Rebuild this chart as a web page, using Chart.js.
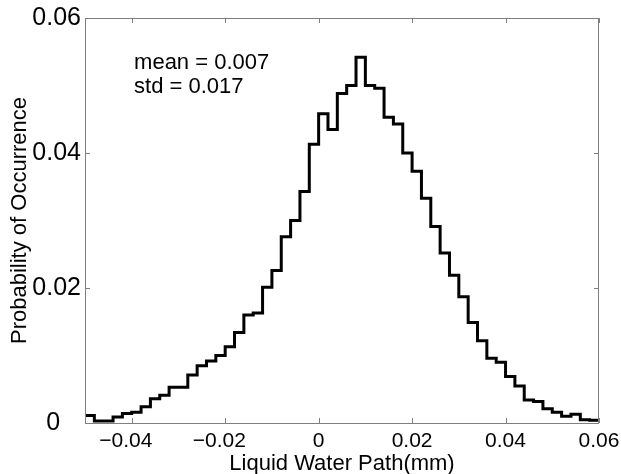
<!DOCTYPE html>
<html>
<head>
<meta charset="utf-8">
<script src="https://cdn.jsdelivr.net/npm/chart.js@4.4.1/dist/chart.umd.min.js"></script>
<style>
  html, body { margin: 0; padding: 0; background: #fff; }
</style>
</head>
<body>
<canvas id="lwpChart" width="621" height="474"></canvas>
<script>
// bin edges of the histogram (mm), one more than the values
var binEdges = [-0.050, -0.048, -0.046, -0.044, -0.042, -0.040, -0.038, -0.036, -0.034, -0.032,
                -0.030, -0.028, -0.026, -0.024, -0.022, -0.020, -0.018, -0.016, -0.014, -0.012,
                -0.010, -0.008, -0.006, -0.004, -0.002, 0.000, 0.002, 0.004, 0.006, 0.008,
                0.010, 0.012, 0.014, 0.016, 0.018, 0.020, 0.022, 0.024, 0.026, 0.028,
                0.030, 0.032, 0.034, 0.036, 0.038, 0.040, 0.042, 0.044, 0.046, 0.048,
                0.050, 0.052, 0.054, 0.056, 0.058, 0.060];
// probability of occurrence in each bin
var probability = [0.0011, 0.0003, 0.0003, 0.0009, 0.0014, 0.0016, 0.0024, 0.0036, 0.0041, 0.0053,
                   0.0053, 0.0071, 0.0085, 0.0092, 0.0100, 0.0113, 0.0134, 0.0160, 0.0163, 0.0201,
                   0.0226, 0.0276, 0.0300, 0.0343, 0.0413, 0.0458, 0.0435, 0.0488, 0.0500, 0.0542,
                   0.0500, 0.0496, 0.0453, 0.0443, 0.0400, 0.0373, 0.0333, 0.0291, 0.0252, 0.0219,
                   0.0187, 0.0149, 0.0122, 0.0096, 0.0090, 0.0069, 0.0055, 0.0034, 0.0032, 0.0021,
                   0.0016, 0.0010, 0.0013, 0.0005, 0.0004];
var xTicks = [-0.04, -0.02, 0, 0.02, 0.04, 0.06];
var yTicks = [0, 0.02, 0.04, 0.06];
var statLines = ["mean = 0.007", "std = 0.017"];

var fontName = "'Liberation Sans', Arial, Helvetica, sans-serif";

var steps = binEdges.map(function (e, i) {
    return {x: e, y: probability[Math.min(i, probability.length - 1)]};
});

function fmt(v) {
    if (v === 0) return "0";
    return (v < 0 ? "\u2212" : "") + Math.abs(v).toFixed(2);
}

// matlab style box, inward ticks and the stats text
var frameBox = {
    id: "frameBox",
    afterDatasetsDraw: function (chart) {
        var ctx = chart.ctx, a = chart.chartArea;
        var sx = chart.scales.x, sy = chart.scales.y;
        ctx.save();
        ctx.strokeStyle = "#808080";
        ctx.lineWidth = 1;
        ctx.strokeRect(Math.round(a.left) + 0.5, Math.round(a.top) + 0.5,
                       Math.round(a.width) - 1, Math.round(a.height));
        ctx.beginPath();
        xTicks.forEach(function (v) {
            var px = Math.round(sx.getPixelForValue(v)) + 0.5;
            ctx.moveTo(px, a.bottom); ctx.lineTo(px, a.bottom - 5);
            ctx.moveTo(px, a.top); ctx.lineTo(px, a.top + 5);
        });
        yTicks.forEach(function (v) {
            var py = Math.round(sy.getPixelForValue(v)) + 0.5;
            ctx.moveTo(a.left, py); ctx.lineTo(a.left + 5, py);
            ctx.moveTo(a.right, py); ctx.lineTo(a.right - 5, py);
        });
        ctx.stroke();

        ctx.fillStyle = "#000";
        ctx.font = "22px " + fontName;
        ctx.textBaseline = "alphabetic";
        ctx.textAlign = "left";
        ctx.fillText(statLines[0], sx.getPixelForValue(-0.0395), sy.getPixelForValue(0.0524));
        ctx.fillText(statLines[1], sx.getPixelForValue(-0.0395), sy.getPixelForValue(0.0489));
        ctx.restore();
    }
};

new Chart("lwpChart", {
    type: "line",
    data: {
        datasets: [{
            data: steps,
            stepped: true,
            borderColor: "#000",
            borderWidth: 3,
            borderJoinStyle: "miter",
            pointRadius: 0,
            fill: false
        }]
    },
    options: {
        responsive: false,
        animation: false,
        layout: {padding: {top: 18, right: 22, left: 0, bottom: 0}},
        plugins: {legend: {display: false}, tooltip: {enabled: false}},
        scales: {
            x: {
                type: "linear",
                min: -0.05,
                max: 0.06,
                grid: {display: false, drawTicks: false},
                border: {display: false},
                afterBuildTicks: function (s) { s.ticks = xTicks.map(function (v) { return {value: v}; }); },
                afterFit: function (s) { s.height = 51; s.paddingLeft = 0; s.paddingRight = 0; },
                ticks: {
                    color: "#000",
                    padding: 6,
                    maxRotation: 0,
                    font: {family: fontName, size: 21},
                    callback: function (v) { return v < 0 ? fmt(v) + "  " : fmt(v); }
                },
                title: {
                    display: true,
                    text: "Liquid Water Path(mm)",
                    color: "#000",
                    padding: 0,
                    font: {family: fontName, size: 22, lineHeight: 0.9}
                }
            },
            y: {
                min: 0,
                max: 0.06,
                grid: {display: false, drawTicks: false},
                border: {display: false},
                afterBuildTicks: function (s) { s.ticks = yTicks.map(function (v) { return {value: v}; }); },
                afterFit: function (s) { s.width = 85; s.paddingTop = 0; s.paddingBottom = 0; },
                ticks: {
                    color: "#000",
                    padding: 4,
                    font: {family: fontName, size: 25},
                    callback: function (v) { return v === 0 ? "0   " : fmt(v); }
                },
                title: {
                    display: true,
                    text: "Probability of Occurrence",
                    color: "#000",
                    padding: {top: 9, bottom: 0},
                    font: {family: fontName, size: 22, lineHeight: 1}
                }
            }
        }
    },
    plugins: [frameBox]
});
</script>
</body>
</html>
